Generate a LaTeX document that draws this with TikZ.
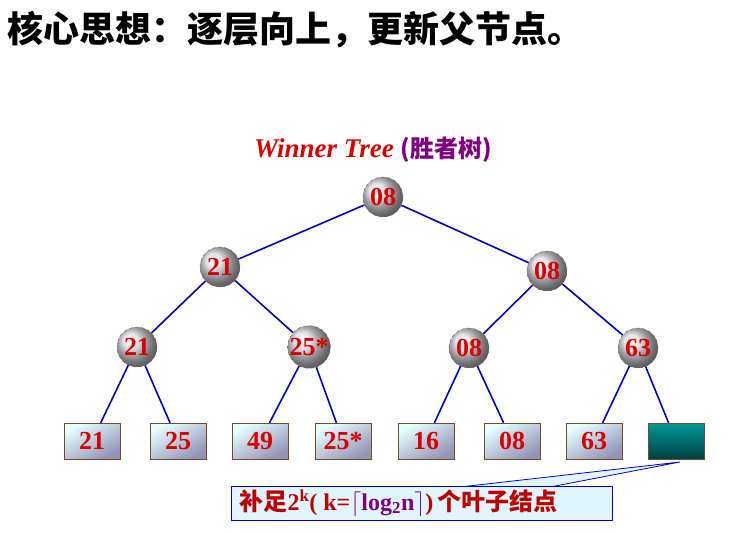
\documentclass[tikz,border=0pt]{standalone}
\usepackage{fontspec}
\setmainfont{Liberation Serif}
\newfontfamily\cjk{Noto Sans CJK SC}
\usetikzlibrary{shadings}
\begin{document}
\begin{tikzpicture}[x=1pt,y=-1pt,
  cn/.style={circle,minimum size=40pt,inner sep=0pt,draw=brown!70!black,dashed,ball color=blue!12!gray!25!white,text=red!85!black,font=\bfseries\fontsize{26}{26}\selectfont},
  lf/.style={rectangle,minimum width=56pt,minimum height=36pt,inner sep=0pt,draw=brown!60!black,top color=cyan!10,bottom color=blue!20!gray!70,shading angle=30,text=red!85!black,font=\bfseries\fontsize{26}{26}\selectfont},
  ed/.style={blue!75!black,line width=1.6pt}]
\useasboundingbox (0,0) rectangle (729,533);
\node[anchor=west,font=\cjk\bfseries\fontsize{36}{36}\selectfont] (title) at (4,30) {核心思想：逐层向上，更新父节点。};
\node (wt) at (373,150) {\fontsize{27}{27}\selectfont\color{red!85!black}\itshape\bfseries Winner Tree \color{violet}\upshape{\cjk\fontsize{24}{24}\selectfont(胜者树)}};
\node[cn] (r) at (383,197) {08};
\node[cn] (a) at (220,267) {21};
\node[cn] (b) at (547,271) {08};
\node[cn] (a1) at (137,347) {21};
\node[cn] (a2) at (309,347) {25*};
\node[cn] (b1) at (469,348) {08};
\node[cn] (b2) at (638,348) {63};
\node[lf] (l1) at (92,441) {21};
\node[lf] (l2) at (178,441) {25};
\node[lf] (l3) at (260,441) {49};
\node[lf] (l4) at (343,441) {25*};
\node[lf] (l5) at (426,441) {16};
\node[lf] (l6) at (512,441) {08};
\node[lf] (l7) at (594,441) {63};
\node[lf,top color=teal!80!cyan,bottom color=teal!50!black] (l8) at (676,441) {};
\foreach \p/\c in {r/a,r/b,a/a1,a/a2,b/b1,b/b2,a1/l1,a1/l2,a2/l3,a2/l4,b1/l5,b1/l6,b2/l7,b2/l8}
  \draw[ed] (\p) -- (\c);
\coordinate (tip) at (680,462);
\fill[cyan!12] (460,487) -- (tip) -- (550,487) -- cycle;
\draw[blue!80!black,line width=0.8pt] (460,487) -- (tip) -- (550,487);
\node[draw=blue!80!black,line width=1pt,fill=cyan!12,minimum width=381pt,minimum height=34pt,anchor=north west,inner sep=0pt] (cb) at (231,486) {};
\node[anchor=west,text=red!75!black,font=\bfseries\fontsize{24}{24}\selectfont] at (236,503) {{\cjk 补足}2\textsuperscript{k}( k=\textcolor{violet}{$\lceil$log\textsubscript{2}n$\rceil$})\,{\cjk 个叶子结点}};
\end{tikzpicture}
\end{document}
